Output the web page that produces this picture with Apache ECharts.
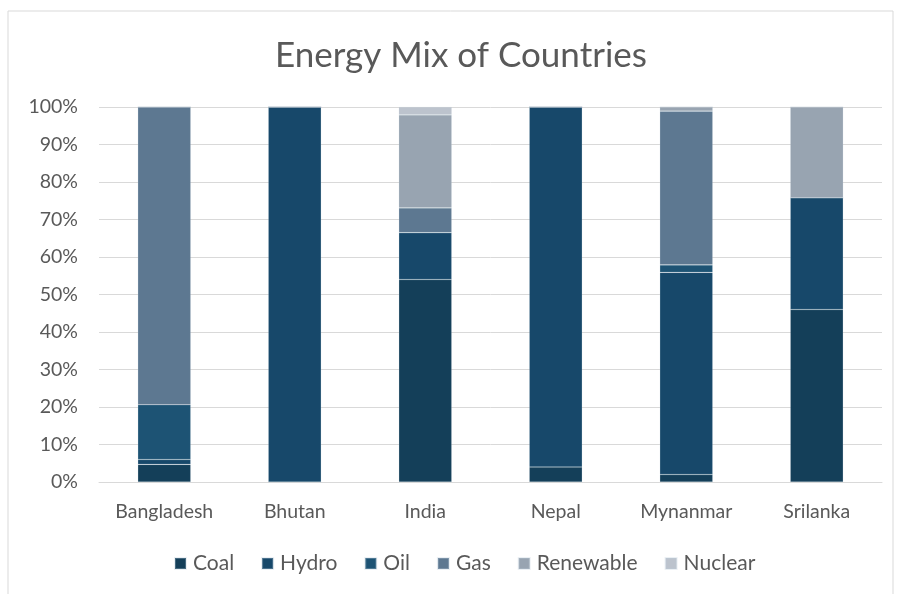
<!DOCTYPE html>
<html>
<head>
<meta charset="utf-8">
<script src="https://cdn.jsdelivr.net/npm/echarts@6/dist/echarts.min.js"></script>
<style>
  html, body { margin: 0; padding: 0; background: #ffffff; }
  #chart { width: 897px; height: 594px; }
</style>
</head>
<body>
<div id="chart"></div>
<script>
// Share of each energy source per country, in percent
const countries = ['Bangladesh', 'Bhutan', 'India', 'Nepal', 'Mynanmar', 'Srilanka'];
const coal      = [4.7,   0,   54.0, 4.0, 2.0,  46.0];
const hydro     = [1.3, 100,   12.5, 96.0, 53.9, 29.8];
const oil       = [14.6,  0,    0,   0,   2.0,   0];
const gas       = [79.4,  0,    6.6, 0,  41.0,   0];
const renewable = [0,     0,   24.8, 0,   1.1,  24.2];
const nuclear   = [0,     0,    2.1, 0,   0,     0];
const yTicks = [0, 10, 20, 30, 40, 50, 60, 70, 80, 90, 100];

const sources = [
  { name: 'Coal', data: coal, color: '#143f59' },
  { name: 'Hydro', data: hydro, color: '#17486a' },
  { name: 'Oil', data: oil, color: '#1d5374' },
  { name: 'Gas', data: gas, color: '#5d7891' },
  { name: 'Renewable', data: renewable, color: '#98a4b1' },
  { name: 'Nuclear', data: nuclear, color: '#bcc3cd' }
];

const textColor = '#595959';
const fontFamily = 'Lato, "Open Sans", sans-serif';

const chart = echarts.init(document.getElementById('chart'), null, { renderer: 'canvas' });

chart.setOption({
  backgroundColor: '#ffffff',
  animation: false,
  textStyle: { fontFamily: fontFamily, color: textColor },
  graphic: [{
    type: 'rect',
    shape: { x: 8, y: 11, width: 885, height: 620 },
    style: { fill: 'none', stroke: '#d9d9d9', lineWidth: 1 },
    silent: true,
    z: -1
  }],
  title: {
    text: 'Energy Mix of Countries',
    left: 270,
    top: 33,
    textStyle: { fontFamily: fontFamily, fontSize: 35, fontWeight: 'normal', color: textColor }
  },
  legend: {
    bottom: 15,
    left: 169,
    itemWidth: 11,
    itemHeight: 11,
    itemGap: 27,
    icon: 'rect',
    textStyle: { fontFamily: fontFamily, fontSize: 21, color: textColor, padding: [0, 0, 0, 2] },
    data: sources.map(s => s.name)
  },
  grid: { left: 99, right: 15, top: 107, bottom: 112, containLabel: false },
  xAxis: {
    type: 'category',
    data: countries,
    axisLine: { show: true, lineStyle: { color: '#d9d9d9', width: 1 } },
    axisTick: { show: false },
    axisLabel: { interval: 0, fontFamily: fontFamily, fontSize: 19.5, color: textColor, margin: 20 }
  },
  yAxis: {
    type: 'value',
    min: yTicks[0],
    max: yTicks[yTicks.length - 1],
    interval: 10,
    axisLine: { show: false },
    axisTick: { show: false },
    splitLine: { lineStyle: { color: '#d9d9d9', width: 1 } },
    axisLabel: { fontFamily: fontFamily, fontSize: 19.5, color: textColor, margin: 21, formatter: v => v + '%' }
  },
  series: sources.map(s => ({
    name: s.name,
    type: 'bar',
    stack: 'mix',
    data: s.data,
    barWidth: 53,
    itemStyle: { color: s.color, borderColor: 'rgba(190,204,218,0.3)', borderWidth: 0.6 },
    emphasis: { disabled: true }
  }))
});
</script>
</body>
</html>
